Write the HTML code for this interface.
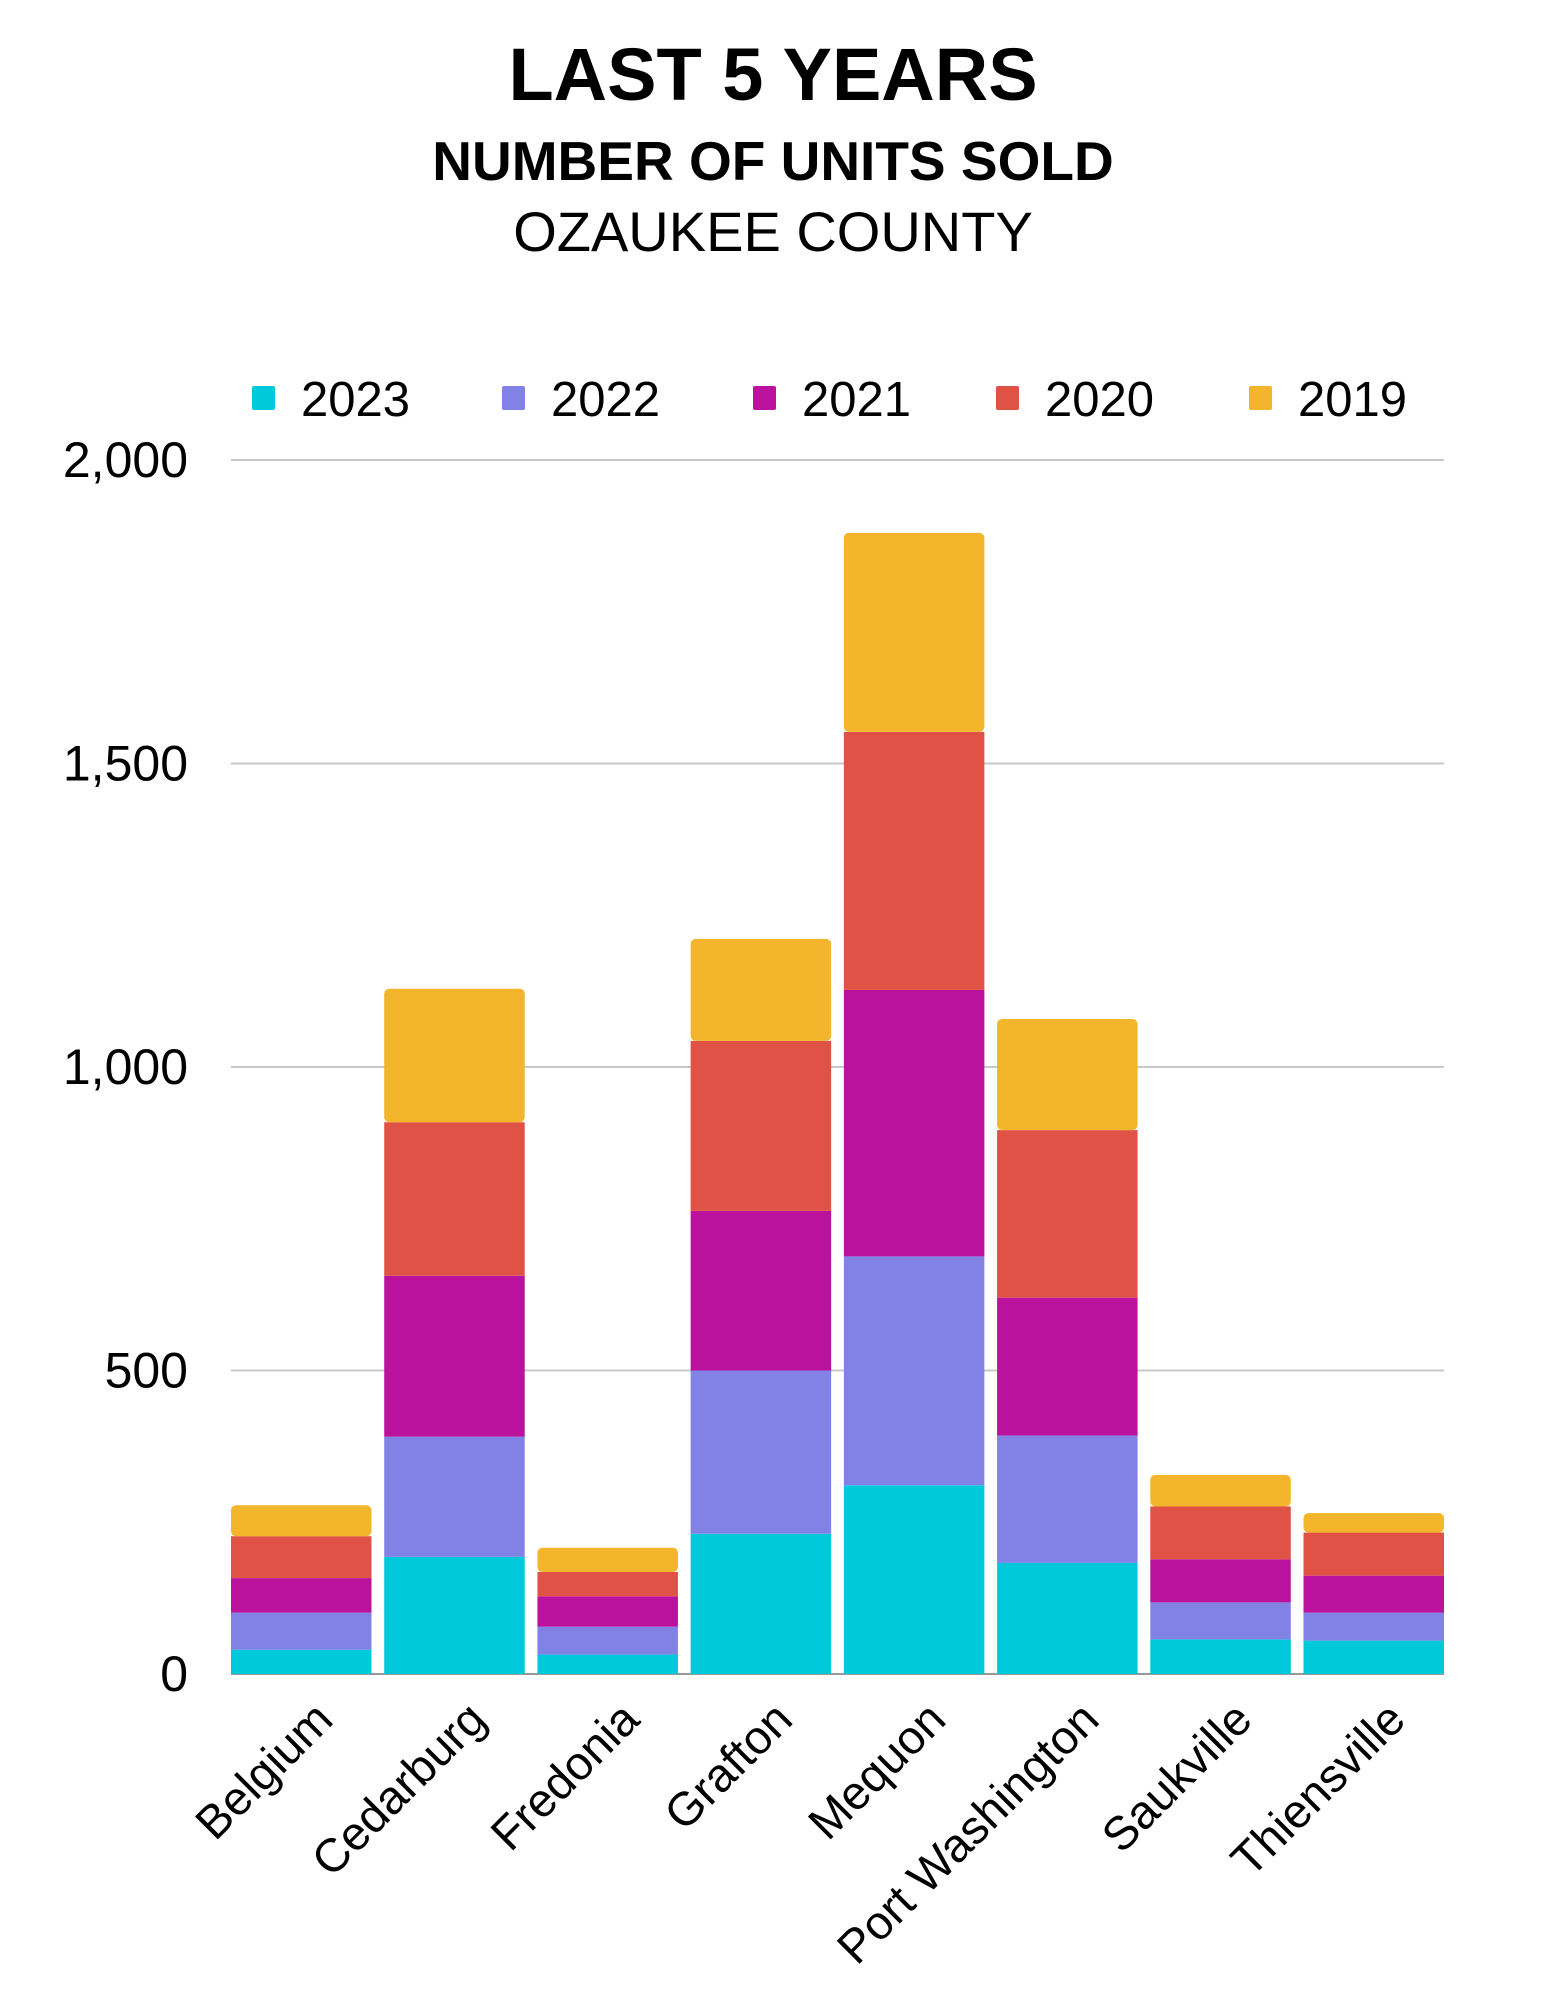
<!DOCTYPE html>
<html><head><meta charset="utf-8"><style>
html,body{margin:0;padding:0;background:#fff;}
svg{display:block;font-family:"Liberation Sans",sans-serif;}
</style></head><body>
<svg id="chart" width="1545" height="2000" viewBox="0 0 1545 2000" xmlns="http://www.w3.org/2000/svg">
<text x="773" y="100" text-anchor="middle" font-size="74" font-weight="bold">LAST 5 YEARS</text>
<text x="773" y="180" text-anchor="middle" font-size="55" font-weight="bold">NUMBER OF UNITS SOLD</text>
<text x="773" y="251" text-anchor="middle" font-size="56" font-weight="normal">OZAUKEE COUNTY</text>
<g id="grid"></g><g id="bars"></g><g id="legend"></g><g id="xlabels"></g>
</svg>
<script>
const categories=["Belgium","Cedarburg","Fredonia","Grafton","Mequon","Port Washington","Saukville","Thiensville"];
const seriesNames=["2023","2022","2021","2020","2019"];
const v2023=[40,193,32,231,311,183,57,55];
const v2022=[61,198,46,269,377,210,61,46];
const v2021=[57,265,50,263,439,227,71,61];
const v2020=[69,253,40,280,425,276,87,71];
const v2019=[51,220,40,168,328,183,52,32];
const yTicks=[0,500,1000,1500,2000];
const yTickLabels=["0","500","1,000","1,500","2,000"];
const colors=["#00c9db","#8282e6","#bb129d","#e05146","#f2b52b"];
const series=[v2023,v2022,v2021,v2020,v2019];
const NS="http://www.w3.org/2000/svg";
const L=231,R=1444,Y0=1674,Y1=460,MAX=2000;
const y=v=>Y0-(Y0-Y1)*v/MAX;
const bw=140.5;
const band=(R-L-bw)/(categories.length-1);
const x=i=>L+i*band;
function mk(t,a,p){const e=document.createElementNS(NS,t);for(const k in a)e.setAttribute(k,a[k]);p.appendChild(e);return e;}
const grid=document.getElementById('grid');
yTicks.forEach((t,i)=>{
  const ln=mk('line',{x1:L,x2:R,y1:y(t),y2:y(t),stroke:i==0?'#999':'#c8c8c8','stroke-width':2},grid);
  
  
  const tx=mk('text',{x:188,y:y(t)+17,'text-anchor':'end','font-size':50},grid);
  tx.textContent=yTickLabels[i];
  
  
});
const bars=document.getElementById('bars');
categories.forEach((c,i)=>{
  let base=0;
  series.forEach((s,j)=>{
    const top=base+s[i];
    const r=mk('rect',{x:x(i),y:y(top),width:bw,height:y(base)-y(top),fill:colors[j]},bars);
    if(j==series.length-1){r.setAttribute('rx',5);}
    
    
    base=top;
  });
  const cx=x(i)+bw/2+34;
  const t=mk('text',{x:cx,y:1722,'text-anchor':'end','font-size':47,transform:'rotate(-45 '+cx+' 1722)'},document.getElementById('xlabels'));
  t.textContent=c;
  
  
});
const lg=document.getElementById('legend');
const lx=[252,502,753,996,1249];
seriesNames.forEach((n,j)=>{
  const g=mk('g',{},lg);
  
  
  mk('rect',{x:lx[j],y:386,width:23,height:24,rx:2,fill:colors[j]},g);
  const t=mk('text',{x:lx[j]+49,y:416,'font-size':49},g);
  t.textContent=n;
});
</script>
</body></html>
